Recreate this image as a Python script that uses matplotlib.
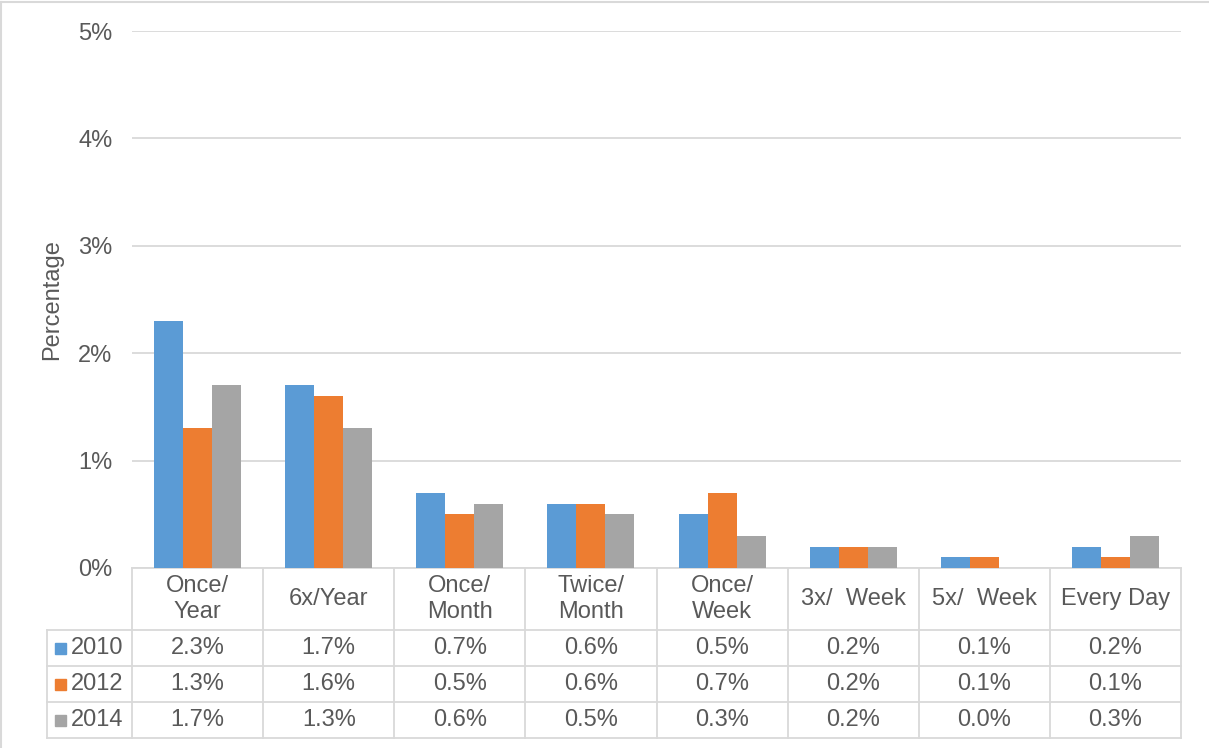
import matplotlib
matplotlib.use("Agg")
import matplotlib.pyplot as plt
from matplotlib.lines import Line2D
from matplotlib.patches import Rectangle
import matplotlib.transforms as mtransforms
import numpy as np

plt.rcParams['font.family'] = ['Liberation Sans', 'DejaVu Sans']

categories = ["Once/\nYear", "6x/Year", "Once/\nMonth", "Twice/\nMonth", "Once/\nWeek",
              "3x/  Week", "5x/  Week", "Every Day"]
years = ["2010", "2012", "2014"]
s2010 = [2.3, 1.7, 0.7, 0.6, 0.5, 0.2, 0.1, 0.2]
s2012 = [1.3, 1.6, 0.5, 0.6, 0.7, 0.2, 0.1, 0.1]
s2014 = [1.7, 1.3, 0.6, 0.5, 0.3, 0.2, 0.0, 0.3]
series = [s2010, s2012, s2014]
colors = ["#5B9BD5", "#ED7D31", "#A5A5A5"]
yticks = [0, 1, 2, 3, 4, 5]
ytick_labels = ["0%", "1%", "2%", "3%", "4%", "5%"]

W, H = 1209, 748
fig = plt.figure(figsize=(W / 100, H / 100), dpi=100)
ax_left, ax_right, ax_top, ax_bot = 132, 1181, 31, 568
ax = fig.add_axes([ax_left / W, 1 - ax_bot / H, (ax_right - ax_left) / W, (ax_bot - ax_top) / H])

text_color = "#595959"
grid_color = "#D9D9D9"
fs = 17

x = np.arange(len(categories))
bw = 0.221
for i, (vals, c) in enumerate(zip(series, colors)):
    ax.bar(x + (i - 1) * bw, vals, width=bw, color=c, zorder=3)

ax.set_xlim(-0.5, len(categories) - 0.5)
ax.set_ylim(0, 5)
ax.set_yticks(yticks)
ax.set_yticklabels(ytick_labels, fontsize=fs, color=text_color)
ax.tick_params(axis='y', length=0, pad=14)
ax.set_xticks([])
for s in ax.spines.values():
    s.set_visible(False)
ax.grid(axis='y', color=grid_color, linewidth=1.3, zorder=0)
ax.set_ylabel("Percentage", fontsize=fs, color=text_color, labelpad=11)

# Data table below axes
trans = mtransforms.blended_transform_factory(ax.transData, ax.transAxes)
axh = ax_bot - ax_top
hdr_bot = -(630 - ax_bot) / axh
row_h = 36 / axh
row_bots = [hdr_bot - row_h * (k + 1) for k in range(3)]
colw = (ax_right - ax_left) / len(categories)
left_x = -0.5 - (ax_left - 47) / colw
lw = 1.3
def line(xs, ys):
    ax.add_line(Line2D(xs, ys, transform=trans, color=grid_color, lw=lw, clip_on=False, zorder=1))

n = len(categories)
line([-0.5, n - 0.5], [0, 0])
line([left_x, n - 0.5], [hdr_bot, hdr_bot])
for rb in row_bots:
    line([left_x, n - 0.5], [rb, rb])
for k in range(n + 1):
    line([k - 0.5, k - 0.5], [0, row_bots[-1]])
line([left_x, left_x], [hdr_bot, row_bots[-1]])

for k, cat in enumerate(categories):
    ax.text(k, hdr_bot / 2, cat, transform=trans, ha='center', va='center',
            fontsize=fs, color=text_color, linespacing=1.2)
for r, (yr, vals, c) in enumerate(zip(years, series, colors)):
    yc = hdr_bot - row_h * (r + 0.5)
    for k, v in enumerate(vals):
        ax.text(k, yc, f"{v:.1f}%", transform=trans, ha='center', va='center',
                fontsize=fs, color=text_color)
    sq = 11 / colw
    sqh = 11 / axh
    ax.add_patch(Rectangle((left_x + 8 / colw, yc - sqh / 2), sq, sqh,
                           transform=trans, color=c, clip_on=False))
    ax.text(left_x + 24 / colw, yc, yr, transform=trans, ha='left', va='center',
            fontsize=fs, color=text_color)

fig.add_artist(Line2D([1 / W, 1 / W], [0, 1 - 2 / H], transform=fig.transFigure, color=grid_color, lw=1.5))
fig.add_artist(Line2D([1 / W, 1], [1 - 2 / H, 1 - 2 / H], transform=fig.transFigure, color=grid_color, lw=1.5))

fig.savefig("out.png", dpi=100)
